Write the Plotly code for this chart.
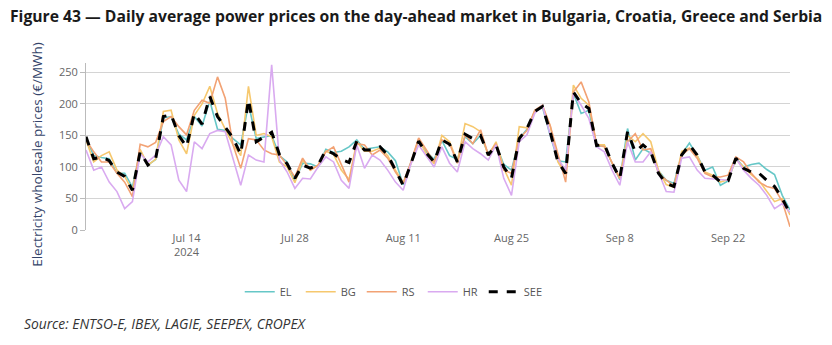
import pandas as pd
import plotly.graph_objects as go

dates = pd.date_range("2024-07-01", "2024-09-30", freq="D")

SEE = [148, 113, 116, 110, 92, 85, 63, 124, 103, 113, 180, 183, 150, 132, 185, 168, 212, 180, 163, 146, 120, 207, 140,
       148, 155, 120, 105, 82, 103, 98, 103, 127, 121, 112, 107, 141, 127, 127, 132, 119, 95, 71, 105, 141, 122, 108,
       143, 136, 108, 152, 145, 150, 119, 135, 100, 82, 145, 161, 188, 196, 156, 108, 90, 219, 201, 193, 134, 136, 106,
       82, 156, 124, 135, 124, 90, 74, 69, 119, 135, 119, 92, 87, 76, 78, 114, 98, 92, 90, 79, 69, 50, 26]
HR = [127, 95, 100, 76, 61, 34, 45, 121, 108, 119, 148, 135, 79, 61, 140, 129, 153, 158, 156, 113, 71, 119, 111,
      108, 262, 111, 92, 66, 82, 81, 100, 116, 108, 79, 66, 135, 98, 119, 111, 95, 76, 63, 105, 135, 118, 100,
      132, 106, 92, 140, 129, 121, 111, 135, 82, 55, 140, 151, 185, 198, 151, 113, 95, 217, 198, 177, 132, 124, 95,
      71, 140, 108, 108, 124, 92, 61, 60, 114, 116, 95, 82, 81, 79, 79, 114, 95, 82, 71, 55, 34, 42, 28]
EL = [145, 118, 115, 113, 90, 90, 68, 126, 103, 112, 178, 180, 152, 143, 180, 165, 205, 160, 158, 145, 135, 200, 145,
      148, 150, 118, 108, 78, 106, 105, 100, 128, 123, 125, 132, 143, 128, 130, 132, 124, 110, 72, 108, 142, 124, 112,
      142, 118, 112, 148, 137, 150, 121, 136, 104, 95, 145, 160, 188, 195, 150, 110, 108, 217, 185, 190, 132, 134, 106,
      80, 161, 111, 129, 122, 94, 79, 74, 120, 138, 118, 95, 100, 71, 78, 114, 100, 104, 106, 96, 88, 55, 32]
BG = [143, 108, 118, 124, 95, 85, 62, 128, 103, 112, 188, 190, 143, 121, 182, 200, 228, 185, 160, 135, 118, 228, 150,
      153, 148, 108, 100, 75, 111, 95, 103, 125, 120, 95, 80, 140, 125, 125, 130, 118, 95, 75, 105, 145, 120, 105,
      150, 140, 108, 169, 164, 156, 118, 140, 98, 71, 164, 162, 188, 196, 165, 108, 88, 230, 209, 198, 135, 135, 106,
      82, 150, 140, 153, 140, 95, 72, 68, 125, 130, 118, 92, 87, 76, 80, 112, 100, 88, 78, 62, 45, 50, 24]
RS = [143, 124, 108, 108, 90, 76, 53, 136, 132, 139, 172, 180, 164, 151, 190, 206, 201, 243, 209, 135, 98, 145, 143,
      127, 121, 119, 103, 84, 114, 95, 103, 124, 132, 103, 76, 137, 135, 119, 127, 114, 92, 74, 108, 146, 126, 108,
      143, 137, 106, 151, 137, 159, 119, 137, 95, 90, 145, 158, 190, 198, 166, 119, 76, 219, 235, 203, 135, 132, 106,
      82, 140, 153, 127, 129, 90, 79, 70, 119, 129, 114, 90, 84, 84, 87, 116, 108, 90, 76, 69, 66, 45, 5]

series = [
    ("EL", EL, "#66c7c7", None, 1.6),
    ("BG", BG, "#f6c86e", None, 1.6),
    ("RS", RS, "#f2a274", None, 1.6),
    ("HR", HR, "#d9aaf0", None, 1.6),
    ("SEE", SEE, "#000000", "dash", 3),
]

fig = go.Figure()
for name, vals, color, dash, w in series:
    fig.add_trace(go.Scatter(x=dates, y=vals, name=name, mode="lines",
                             line=dict(color=color, width=w, dash=dash)))

fig.update_layout(
    width=832, height=345,
    margin=dict(l=86, r=42, t=63, b=115),
    paper_bgcolor="white", plot_bgcolor="white",
    font=dict(family="Open Sans, Liberation Sans, sans-serif", size=11, color="#666666"),
    showlegend=True,
    legend=dict(orientation="h", x=0.435, xanchor="center", y=-0.37, yanchor="middle",
                font=dict(size=11, color="#555555"), entrywidth=16, entrywidthmode="pixels",
                tracegroupgap=0),
    xaxis=dict(range=["2024-07-01", "2024-09-30"], tick0="2024-07-14", dtick=14 * 86400000,
               showgrid=False, showline=False, zeroline=False, ticks="",
               tickfont=dict(size=11, color="#666666")),
    yaxis=dict(range=[0, 265], tickvals=[0, 50, 100, 150, 200, 250], showgrid=True,
               gridcolor="#d4d4d4", gridwidth=1, showline=True, linecolor="#bbbbbb", linewidth=1,
               zeroline=False, ticks="outside", ticklen=5, tickcolor="#bbbbbb",
               tickfont=dict(size=11, color="#666666")),
    annotations=[
        dict(text="<b>Figure 43 — Daily average power prices on the day-ahead market in Bulgaria, Croatia, Greece and Serbia</b>",
             xref="paper", yref="paper", x=-0.111, y=1.281, xanchor="left", yanchor="middle",
             showarrow=False, font=dict(family="Open Sans, sans-serif", size=15.7, color="#1a1a1a")),
        dict(text="<i>Source: ENTSO-E, IBEX, LAGIE, SEEPEX, CROPEX</i>",
             xref="paper", yref="paper", x=-0.091, y=-0.557, xanchor="left", yanchor="middle",
             showarrow=False, font=dict(family="Open Sans, sans-serif", size=13.8, color="#333333")),
        dict(text="Electricity wholesale prices (€/MWh)", textangle=-90,
             xref="paper", yref="paper", x=-0.0696, y=0.45, xanchor="center", yanchor="middle",
             showarrow=False, font=dict(family="Open Sans, sans-serif", size=13.5, color="#34446a")),
    ],
)

fig.write_html("out.html")
